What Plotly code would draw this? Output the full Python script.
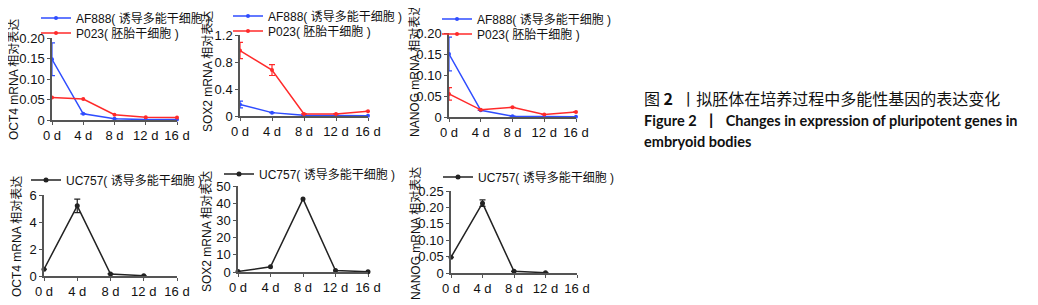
import plotly.graph_objects as go

# Page size and the browser's default body margin (the figure is drawn 8 px in)
PAGE_W, PAGE_H = 1038, 305
OFF = 8
W, H = PAGE_W - OFF, PAGE_H - OFF

days = [0, 4, 8, 12, 16]
day_labels = ["0 d", "4 d", "8 d", "12 d", "16 d"]

# Top row: AF888 (iPSC) vs P023 (ESC)
oct4_af888 = [0.148, 0.015, 0.003, 0.001, 0.001]
oct4_af888_err = [0.04, None, None, None, None]
oct4_p023 = [0.055, 0.051, 0.013, 0.007, 0.006]

sox2_af888 = [0.17, 0.05, 0.01, 0.005, 0.005]
sox2_af888_err = [0.05, None, None, None, None]
sox2_p023 = [0.97, 0.68, 0.03, 0.03, 0.07]
sox2_p023_err = [0.12, 0.08, None, None, None]

nanog_af888 = [0.15, 0.016, 0.002, 0.0005, 0.0003]
nanog_af888_err = [0.04, None, None, None, None]
nanog_p023 = [0.055, 0.017, 0.023, 0.006, 0.012]
nanog_p023_err = [0.015, None, None, None, None]

# Bottom row: UC757 (iPSC)
days_uc = [0, 4, 8, 12]
oct4_uc757 = [0.5, 5.2, 0.15, 0.02]
oct4_uc757_err = [None, 0.5, None, None]
sox2_uc757 = [0.3, 3.0, 42.5, 0.8, 0.2]
nanog_uc757 = [0.048, 0.213, 0.005, 0.001]
nanog_uc757_err = [None, 0.01, None, None]

name_af = "AF888( 诱导多能干细胞 )"
name_p = "P023( 胚胎干细胞 )"
name_uc = "UC757( 诱导多能干细胞 )"

BLUE = "#2f4dff"
RED = "#ff2a2a"
BLACK = "#222222"
AX = "#555555"

FONT = "Liberation Sans, Noto Sans CJK SC"


def fx(px):
    return (px - OFF) / W


def fy(py):
    return 1 - (py - OFF) / H


fig = go.Figure()


def add(x, y, name, color, n, legend, err=None, msize=4):
    ax = "" if n == 1 else str(n)
    fig.add_trace(go.Scatter(
        x=x, y=y, name=name, mode="lines+markers",
        line=dict(color=color, width=1.5),
        marker=dict(color=color, size=msize),
        error_y=dict(type="data", array=err, color=color, thickness=1.2, width=3, visible=err is not None),
        xaxis="x" + ax, yaxis="y" + ax, legend=legend, cliponaxis=False,
    ))


add(days, oct4_af888, name_af, BLUE, 1, "legend", oct4_af888_err)
add(days, oct4_p023, name_p, RED, 1, "legend2")
add(days, sox2_af888, name_af, BLUE, 2, "legend3", sox2_af888_err)
add(days, sox2_p023, name_p, RED, 2, "legend4", sox2_p023_err)
add(days, nanog_af888, name_af, BLUE, 3, "legend5", nanog_af888_err)
add(days, nanog_p023, name_p, RED, 3, "legend6", nanog_p023_err)
add(days_uc, oct4_uc757, name_uc, BLACK, 4, "legend7", oct4_uc757_err, 5)
add(days, sox2_uc757, name_uc, BLACK, 5, "legend8", None, 5)
add(days_uc, nanog_uc757, name_uc, BLACK, 6, "legend9", nanog_uc757_err, 5)

panels = [
    # x0, x1, ytop, ybot (page px), ymax, tickvals, ticktext, ytitle, title centre
    (52, 177, 38, 120, 0.2, [0, 0.05, 0.10, 0.15, 0.20], ["0", "0.05", "0.10", "0.15", "0.20"], "OCT4 mRNA 相对表达", 14, 80),
    (240, 368, 35, 116, 1.2, [0, 0.4, 0.8, 1.2], ["0", "0.4", "0.8", "1.2"], "SOX2 mRNA 相对表达", 208, 72),
    (449, 576, 33, 117, 0.2, [0, 0.05, 0.10, 0.15, 0.20], ["0", "0.05", "0.10", "0.15", "0.20"], "NANOG mRNA 相对表达", 415, 71),
    (44, 177, 195, 276, 6, [0, 2, 4, 6], ["0", "2", "4", "6"], "OCT4 mRNA 相对表达", 17, 237),
    (238, 368, 186, 272, 50, [0, 10, 20, 30, 40, 50], ["0", "10", "20", "30", "40", "50"], "SOX2 mRNA 相对表达", 207, 232),
    (451, 577, 191, 273, 0.25, [0, 0.05, 0.10, 0.15, 0.20, 0.25], ["0", "0.05", "0.10", "0.15", "0.20", "0.25"], "NANOG mRNA 相对表达", 416, 234),
]

layout = dict(
    width=W, height=H, margin=dict(l=0, r=0, t=0, b=0, autoexpand=False),
    paper_bgcolor="white", plot_bgcolor="white",
    font=dict(family=FONT, size=13, color="#111"),
    showlegend=True,
)

annotations = []
for i, (x0, x1, yt, yb, ymax, tv, tt, title, tx, ty) in enumerate(panels, start=1):
    s = "" if i == 1 else str(i)
    layout["xaxis" + s] = dict(
        domain=[fx(x0), fx(x1)], range=[0, 16], anchor="y" + s, automargin=False,
        tickvals=days, ticktext=day_labels, showline=True, linecolor=AX, linewidth=1.5,
        ticks="outside", ticklen=3, tickcolor=AX, showgrid=False, zeroline=False,
        tickfont=dict(size=13, family=FONT, color="#111"), fixedrange=True,
    )
    layout["yaxis" + s] = dict(
        domain=[fy(yb), fy(yt)], range=[0, ymax], anchor="x" + s, automargin=False,
        tickvals=tv, ticktext=tt, showline=True, linecolor=AX, linewidth=1.5,
        ticks="outside", ticklen=3, tickcolor=AX, showgrid=False, zeroline=False,
        tickfont=dict(size=13, family=FONT, color="#111"), fixedrange=True,
    )
    annotations.append(dict(
        text=title, x=fx(tx), y=fy(ty), xref="paper", yref="paper",
        textangle=-90, showarrow=False, xanchor="center", yanchor="middle",
        font=dict(size=12, family=FONT, color="#111"),
    ))

# legend entries: (text start x, row centre y) in page px
legend_pos = {
    "legend": (75, 18), "legend2": (75, 33),
    "legend3": (267, 16), "legend4": (267, 31),
    "legend5": (476, 19), "legend6": (476, 34),
    "legend7": (65, 180), "legend8": (258, 174), "legend9": (477, 177),
}
for k, (tx, ty) in legend_pos.items():
    layout[k] = dict(
        x=fx(tx - 39), y=fy(ty), xanchor="left", yanchor="middle",
        bgcolor="rgba(0,0,0,0)", borderwidth=0, itemwidth=30,
        font=dict(size=12, family=FONT, color="#111"), tracegroupgap=0,
    )

annotations += [
    dict(text="图 <b>2</b>  丨拟胚体在培养过程中多能性基因的表达变化", x=fx(642), y=fy(98),
         xref="paper", yref="paper", showarrow=False, xanchor="left", yanchor="middle",
         font=dict(size=16, family="Noto Sans CJK SC", color="#111")),
    dict(text="<b>Figure 2  丨  Changes in expression of pluripotent genes in</b>", x=fx(642), y=fy(121),
         xref="paper", yref="paper", showarrow=False, xanchor="left", yanchor="middle",
         font=dict(size=14.5, family="Lato", color="#111")),
    dict(text="<b>embryoid bodies</b>", x=fx(642), y=fy(142),
         xref="paper", yref="paper", showarrow=False, xanchor="left", yanchor="middle",
         font=dict(size=14.5, family="Lato", color="#111")),
]
layout["annotations"] = annotations

fig.update_layout(**layout)
fig.write_html("out.html")
